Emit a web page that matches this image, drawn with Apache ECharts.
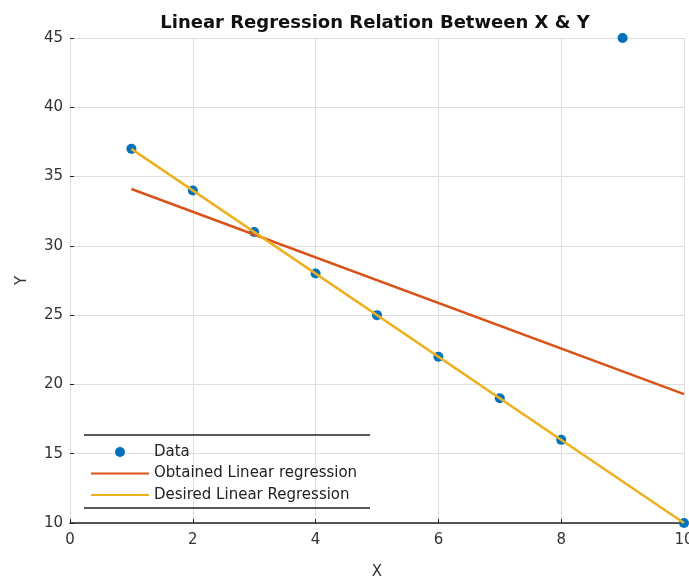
<!DOCTYPE html>
<html>
<head>
<meta charset="utf-8">
<script src="https://cdn.jsdelivr.net/npm/echarts@6/dist/echarts.min.js"></script>
<style>html,body{margin:0;padding:0;background:#fff;overflow:hidden;width:689px;height:584px}#c{width:689px;height:584px}</style>
</head>
<body>
<div id="c"></div>
<script>
const dataX = [1, 2, 3, 4, 5, 6, 7, 8, 9, 10];
const dataY = [37, 34, 31, 28, 25, 22, 19, 16, 45, 10];
const obtainedX = [1, 10];
const obtainedY = [34.1, 19.3];
const desiredX = [1, 10];
const desiredY = [37, 10];
const seriesNames = ['Data', 'Obtained Linear regression', 'Desired Linear Regression'];
const titleText = 'Linear Regression Relation Between X & Y';

const zip = (xs, ys) => xs.map((x, i) => [x, ys[i]]);
const font = 'DejaVu Sans, Liberation Sans, sans-serif';

const chart = echarts.init(document.getElementById('c'), null, { width: 689, height: 584 });
chart.setOption({
  animation: false,
  backgroundColor: '#fff',
  title: {
    text: titleText, left: 370, textAlign: 'center', top: 9,
    textStyle: { fontFamily: font, fontSize: 18, fontWeight: 'bold', color: '#111' }
  },
  grid: { left: 70, right: 5, top: 38, bottom: 61, containLabel: false, outerBoundsMode: 'none' },
  xAxis: {
    type: 'value', min: 0, max: 10, interval: 2,
    name: 'X', nameLocation: 'middle', nameGap: 42,
    nameTextStyle: { fontFamily: font, fontSize: 15, color: '#333' },
    axisLine: { show: true, lineStyle: { color: '#222', width: 1.5 } },
    axisTick: { show: true, inside: true, length: 4, lineStyle: { color: '#222' } },
    axisLabel: { fontFamily: font, fontSize: 15, color: '#333', margin: 10 },
    splitLine: { show: true, lineStyle: { color: '#dedede', width: 1 } }
  },
  yAxis: {
    type: 'value', min: 10, max: 45, interval: 5,
    name: 'Y', nameLocation: 'middle', nameGap: 40,
    nameTextStyle: { fontFamily: font, fontSize: 15, color: '#333' },
    axisLine: { show: false },
    axisTick: { show: true, inside: true, length: 4, lineStyle: { color: '#222' } },
    axisLabel: { fontFamily: font, fontSize: 15, color: '#333', margin: 7 },
    splitLine: { show: true, lineStyle: { color: '#dedede', width: 1 } }
  },
  legend: {
    orient: 'vertical', left: 85, top: 439,
    itemWidth: 58, itemHeight: 10, itemGap: 5.5,
    textStyle: { fontFamily: font, fontSize: 15, lineHeight: 16, color: '#222' },
    data: [
      { name: seriesNames[0], icon: 'circle' },
      { name: seriesNames[1], itemStyle: { opacity: 0 } },
      { name: seriesNames[2], itemStyle: { opacity: 0 } }
    ]
  },
  graphic: [
    { type: 'line', shape: { x1: 84, y1: 435, x2: 370, y2: 435 }, style: { stroke: '#222', lineWidth: 1.5 }, z: 100 },
    { type: 'line', shape: { x1: 84, y1: 508, x2: 370, y2: 508 }, style: { stroke: '#222', lineWidth: 1.5 }, z: 100 }
  ],
  series: [
    {
      name: seriesNames[1], type: 'line', data: zip(obtainedX, obtainedY),
      symbol: 'none', lineStyle: { color: '#D95319', width: 2.5 }, itemStyle: { color: '#D95319' }, z: 2
    },
    {
      name: seriesNames[2], type: 'line', data: zip(desiredX, desiredY),
      symbol: 'none', lineStyle: { color: '#EDB120', width: 2.5 }, itemStyle: { color: '#EDB120' }, z: 3
    },
    {
      name: seriesNames[0], type: 'scatter', data: zip(dataX, dataY),
      symbol: 'circle', symbolSize: 10, itemStyle: { color: '#0072BD', opacity: 1 }, z: 1
    }
  ]
});
</script>
</body>
</html>
